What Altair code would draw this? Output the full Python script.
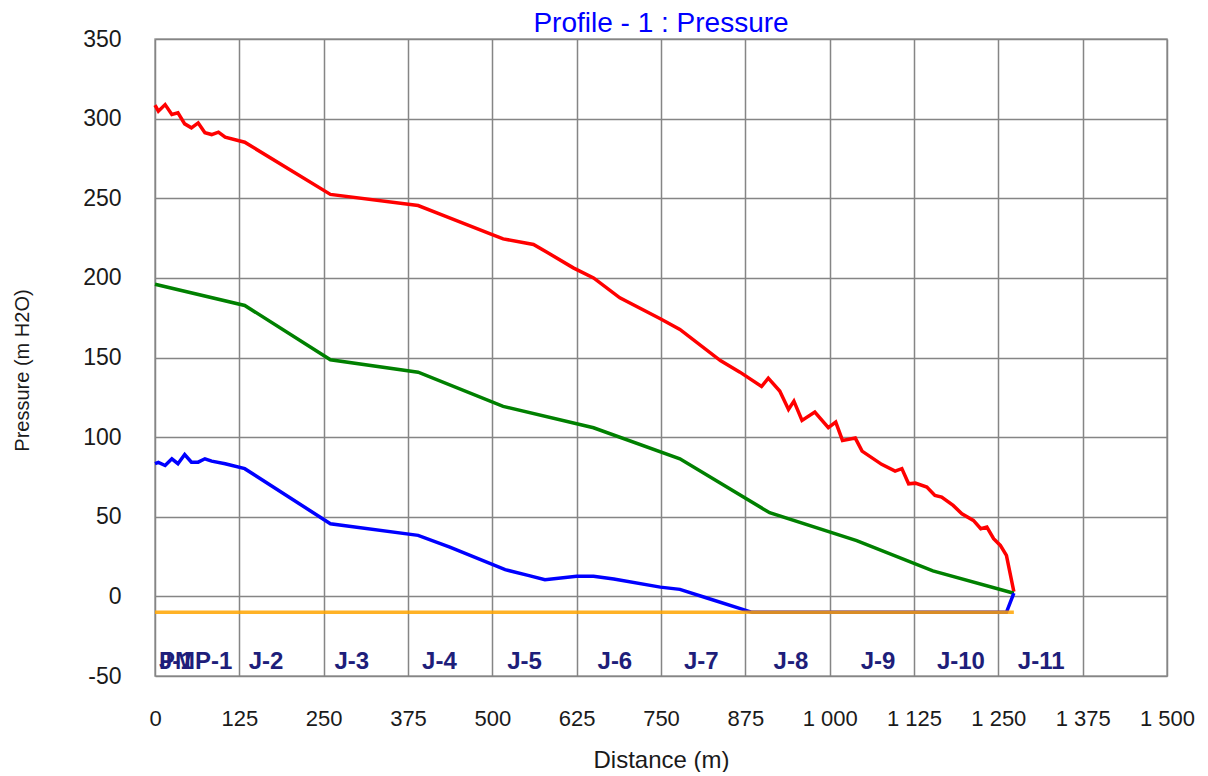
import altair as alt
import pandas as pd

# ---- data ----
upper_dist = [0, 5, 15, 25, 34, 44, 54, 64, 74, 84, 94, 104, 133, 260, 390, 430, 497, 516,
              561, 581, 620, 650, 689, 749, 778, 838, 867, 899, 909, 926, 939, 947, 959, 978,
              998, 1009, 1019, 1038, 1048, 1077, 1097, 1107, 1117, 1127, 1144, 1156, 1166,
              1183, 1196, 1213, 1224, 1233, 1243, 1253, 1262, 1273]
upper_pres = [308.5, 304.7, 308.8, 302.6, 303.6, 296.7, 294.2, 297.3, 291.1, 290.0, 291.5, 288.3,
              285.2, 252.4, 245.4, 238.8, 227.7, 224.5, 221.0, 216.1, 206.3, 200.0, 187.5, 174.3,
              167.6, 148.1, 140.8, 131.8, 137.0, 128.9, 117.4, 122.6, 110.5, 115.7, 105.9, 109.4,
              97.9, 99.4, 91.2, 82.9, 78.7, 80.2, 70.7, 71.1, 68.6, 63.4, 62.3, 57.1, 51.9, 47.7,
              42.5, 43.5, 36.2, 32.0, 25.7, 3.0]

middle_dist = [0, 133, 260, 390, 516, 650, 778, 911, 1040, 1153, 1273]
middle_pres = [196.0, 182.7, 148.6, 140.8, 119.3, 105.9, 86.4, 52.5, 35.0, 16.0, 2.0]

lower_dist = [0, 5, 15, 25, 34, 44, 54, 64, 74, 84, 104, 133, 260, 390, 437, 519, 553, 578,
              625, 650, 680, 749, 778, 818, 885, 1262, 1273]
lower_pres = [83.3, 84.1, 82.2, 86.4, 83.3, 89.1, 84.3, 84.3, 86.4, 84.9, 83.3, 80.2, 45.6, 38.3,
              30.9, 16.8, 13.2, 10.5, 12.6, 12.7, 10.9, 5.8, 4.4, -1.0, -10.0, -10.0, 2.0]

limit_dist = [0, 1273]
limit_pres = [-10.0, -10.0]

node_names = ["J-1", "PMP-1", "J-2", "J-3", "J-4", "J-5", "J-6", "J-7", "J-8", "J-9", "J-10", "J-11"]
node_dist = [0, 0, 133, 260, 390, 516, 650, 778, 911, 1040, 1153, 1273]

x_ticks = list(range(0, 1501, 125))
y_ticks = list(range(-50, 351, 50))

FONT = "Liberation Sans"

series = [
    ("Upper", upper_dist, upper_pres, "#ff0000", 1.0),
    ("Middle", middle_dist, middle_pres, "#008000", 1.0),
    ("Lower", lower_dist, lower_pres, "#0000ff", 1.0),
    ("Limit", limit_dist, limit_pres, "#ffa500", 0.85),
]

x_scale = alt.Scale(domain=[0, 1500], nice=False, zero=False)
y_scale = alt.Scale(domain=[-50, 350], nice=False, zero=False)

x_axis = alt.Axis(
    values=x_ticks, title="Distance (m)", grid=True, ticks=False, domain=False,
    labelExpr="replace(format(datum.value, ','), ',', ' ')",
    labelFlush=False, labelOverlap=False, labelFontSize=22,
    labelPadding=32, titlePadding=19, titleFontSize=24,
)
y_axis = alt.Axis(
    values=y_ticks, title="Pressure (m H2O)", grid=True, ticks=False, domain=False,
    labelExpr="'' + datum.value",
    labelFlush=False, labelOverlap=False, labelFontSize=23,
    labelPadding=34, titlePadding=50, titleFontSize=20, titleY=331,
)

layers = []
for name, d, p, color, op in series:
    df = pd.DataFrame({"Distance": d, "Pressure": p, "Series": name})
    layers.append(
        alt.Chart(df).mark_line(color=color, strokeWidth=3.5, opacity=op).encode(
            x=alt.X("Distance:Q", scale=x_scale, axis=x_axis),
            y=alt.Y("Pressure:Q", scale=y_scale, axis=y_axis),
        )
    )

nodes = pd.DataFrame({"Distance": node_dist, "Node": node_names})
labels = alt.Chart(nodes).mark_text(
    align="left", baseline="middle", dx=4, font=FONT, fontSize=24, fontWeight="bold",
    color="#1e1e7a",
).encode(
    x=alt.X("Distance:Q", scale=x_scale, axis=x_axis),
    y=alt.datum(-41, scale=y_scale),
    text="Node:N",
)

chart = alt.layer(*layers, labels).properties(
    width=1012, height=637,
    title=alt.TitleParams("Profile - 1 : Pressure", color="#0000ff", font=FONT,
                          fontSize=28, fontWeight="normal", anchor="middle",
                          frame="group", offset=-10),
    padding={"top": 2, "left": 4, "right": 5, "bottom": 0},
).configure_view(
    stroke="#a0a0a0", strokeWidth=1.5,
).configure_axis(
    gridColor="#858585", gridWidth=1.5, gridOpacity=1,
    labelFont=FONT, titleFont=FONT,
    labelColor="#1a1a1a", titleColor="#1a1a1a", titleFontWeight="normal",
)

chart.save("out.html", embed_options={"renderer": "svg", "actions": False})
